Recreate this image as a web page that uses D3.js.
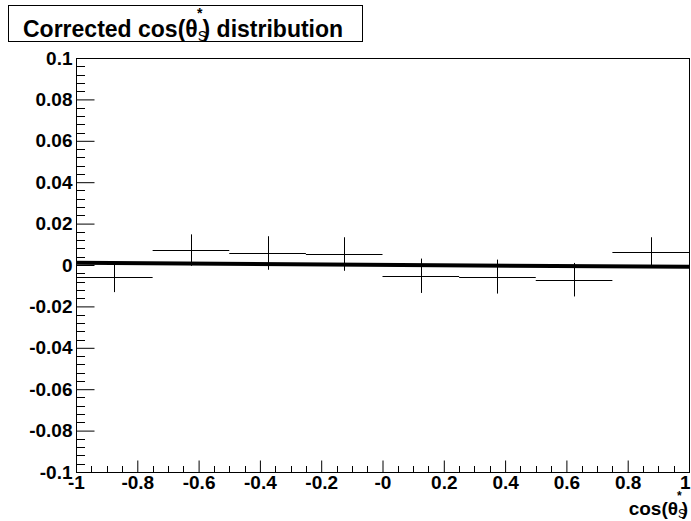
<!DOCTYPE html>
<html>
<head>
<meta charset="utf-8">
<script src="https://cdn.jsdelivr.net/npm/d3@7"></script>
<style>
  body { margin: 0; background: #fff; }
  text { font-family: "Liberation Sans", Arial, sans-serif; font-weight: bold; }
</style>
</head>
<body>
<svg id="chart" width="691" height="521"></svg>
<script>
// bins of the corrected histogram
var binEdges = [-1, -0.75, -0.5, -0.25, 0, 0.25, 0.5, 0.75, 1];
var binValues = [-0.0058, 0.0072, 0.0058, 0.0053, -0.0052, -0.0056, -0.0071, 0.0061];
var binErrors = [0.0073, 0.0076, 0.0081, 0.0081, 0.0083, 0.0082, 0.0081, 0.0073];

// pol1 fit drawn on top: p0 + p1*x
var fitParams = [0.0001, -0.0010];

var yTicks = [-0.1, -0.08, -0.06, -0.04, -0.02, 0, 0.02, 0.04, 0.06, 0.08, 0.1];
var yTickLabels = ['-0.1', '-0.08', '-0.06', '-0.04', '-0.02', '0', '0.02', '0.04', '0.06', '0.08', '0.1'];
var xTicks = [-1, -0.8, -0.6, -0.4, -0.2, 0, 0.2, 0.4, 0.6, 0.8, 1];
var xTickLabels = ['-1', '-0.8', '-0.6', '-0.4', '-0.2', '-0', '0.2', '0.4', '0.6', '0.8', '1'];

(function () {
	var svg = d3.select('#chart');

	var fL = 76, fR = 689, fT = 58, fB = 472;

	var x = d3.scaleLinear().domain([-1, 1]).range([fL, fR]);
	var y = d3.scaleLinear().domain([-0.1, 0.1]).range([fB, fT]);

	// frame
	svg.append('rect')
		.attr('x', fL + 0.5)
		.attr('y', fT + 0.5)
		.attr('width', fR - fL)
		.attr('height', fB - fT)
		.attr('fill', 'none')
		.attr('stroke', '#000')
		.attr('stroke-width', 1);

	// y axis: ticks inside the frame, labels on the left
	var yAxis = d3.axisLeft(y)
		.tickValues(yTicks)
		.tickSize(-18)
		.tickPadding(4)
		.tickFormat(function (d, i) { return yTickLabels[i]; });

	var yMinor = d3.range(-0.1, 0.1001, 0.004).filter(function (v) {
		return Math.abs(Math.round(v / 0.02) * 0.02 - v) > 1e-6;
	});

	var gy = svg.append('g')
		.attr('transform', 'translate(' + (fL + 0.5) + ',0)')
		.call(yAxis);
	gy.select('.domain').remove();
	gy.selectAll('.tick line').attr('stroke', '#000');
	gy.selectAll('.tick text')
		.attr('font-size', 19)
		.attr('fill', '#000');

	svg.append('g')
		.selectAll('line')
		.data(yMinor)
		.enter()
		.append('line')
		.attr('x1', fL)
		.attr('x2', fL + 9)
		.attr('y1', function (d) { return Math.round(y(d)) + 0.5; })
		.attr('y2', function (d) { return Math.round(y(d)) + 0.5; })
		.attr('stroke', '#000');

	// x axis: ticks pointing up, labels below
	var xAxis = d3.axisBottom(x)
		.tickValues(xTicks)
		.tickSize(-12)
		.tickPadding(3)
		.tickFormat(function (d, i) { return xTickLabels[i]; });

	var xMinor = d3.range(-1, 1.0001, 0.05).filter(function (v) {
		return Math.abs(Math.round(v / 0.2) * 0.2 - v) > 1e-6;
	});

	var gx = svg.append('g')
		.attr('transform', 'translate(0,' + (fB + 0.5) + ')')
		.call(xAxis);
	gx.select('.domain').remove();
	gx.selectAll('.tick line').attr('stroke', '#000');
	gx.selectAll('.tick text')
		.attr('font-size', 19)
		.attr('fill', '#000');
	// last label kept on the page
	gx.selectAll('.tick text').filter(function (d) { return d === 1; })
		.attr('text-anchor', 'end')
		.attr('dx', 1);

	svg.append('g')
		.selectAll('line')
		.data(xMinor)
		.enter()
		.append('line')
		.attr('x1', function (d) { return Math.round(x(d)) + 0.5; })
		.attr('x2', function (d) { return Math.round(x(d)) + 0.5; })
		.attr('y1', fB)
		.attr('y2', fB - 6)
		.attr('stroke', '#000');

	// histogram points with errors
	var bins = binValues.map(function (v, i) {
		return { lo: binEdges[i], hi: binEdges[i + 1], v: v, e: binErrors[i] };
	});

	var pts = svg.append('g')
		.attr('stroke', '#000')
		.attr('stroke-width', 1);

	pts.selectAll('line.h')
		.data(bins)
		.enter()
		.append('line')
		.attr('class', 'h')
		.attr('x1', function (d) { return x(d.lo); })
		.attr('x2', function (d) { return x(d.hi); })
		.attr('y1', function (d) { return Math.round(y(d.v)) + 0.5; })
		.attr('y2', function (d) { return Math.round(y(d.v)) + 0.5; });

	pts.selectAll('line.v')
		.data(bins)
		.enter()
		.append('line')
		.attr('class', 'v')
		.attr('x1', function (d) { return Math.round(x((d.lo + d.hi) / 2)) + 0.5; })
		.attr('x2', function (d) { return Math.round(x((d.lo + d.hi) / 2)) + 0.5; })
		.attr('y1', function (d) { return y(d.v + d.e); })
		.attr('y2', function (d) { return y(d.v - d.e); });

	// fit line
	var fitX = [-1, 1];
	svg.append('path')
		.datum(fitX)
		.attr('fill', 'none')
		.attr('stroke', '#000')
		.attr('stroke-width', 4)
		.attr('d', d3.line()
			.x(function (d) { return x(d); })
			.y(function (d) { return y(fitParams[0] + fitParams[1] * d); }));

	// x axis title
	var xt = svg.append('text')
		.attr('x', 688)
		.attr('y', 515)
		.attr('text-anchor', 'end')
		.attr('font-size', 19)
		.attr('fill', '#000');
	xt.append('tspan').text('cos(θ');
	xt.append('tspan').attr('font-size', 12).attr('font-weight', 'normal').attr('dy', 3).text('S');
	xt.append('tspan').attr('font-size', 12).attr('dx', -9).attr('dy', -18).text('*');
	xt.append('tspan').attr('dy', 15).text(')');

	// title box
	svg.append('rect')
		.attr('x', 8.5)
		.attr('y', 5.5)
		.attr('width', 354)
		.attr('height', 36)
		.attr('fill', '#fff')
		.attr('stroke', '#000');

	var tt = svg.append('text')
		.attr('x', 23)
		.attr('y', 37)
		.attr('font-size', 23)
		.attr('fill', '#000');
	tt.append('tspan').text('Corrected cos(θ');
	tt.append('tspan').attr('font-size', 14).attr('font-weight', 'normal').attr('dy', 4).text('S');
	tt.append('tspan').attr('font-size', 14).attr('dx', -10).attr('dy', -23).text('*');
	tt.append('tspan').attr('dy', 19).text(') distribution');
})();
</script>
</body>
</html>
